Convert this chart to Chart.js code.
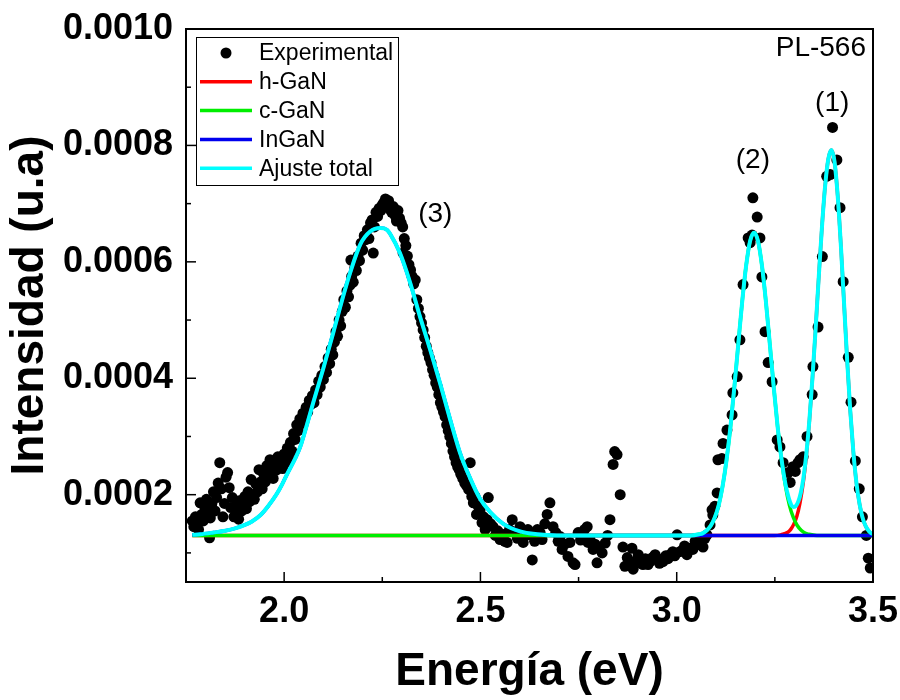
<!DOCTYPE html>
<html>
<head>
<meta charset="utf-8">
<script src="https://cdn.jsdelivr.net/npm/chart.js@4.4.1/dist/chart.umd.min.js"></script>
<style>
  html, body { margin: 0; padding: 0; background: #fff; }
  #wrap { width: 900px; height: 700px; }
</style>
</head>
<body>
<div id="wrap"><canvas id="plPlot" width="900" height="700"></canvas></div>
<script>
// Datos experimentales (energía en eV, intensidad en u.a.)
const energia = [
  1.766, 1.770, 1.774, 1.778, 1.782, 1.786, 1.790, 1.794, 1.798, 1.802, 1.806, 1.810, 1.812, 1.816, 1.820, 1.824,
  1.828, 1.832, 1.836, 1.840, 1.844, 1.848, 1.852, 1.856, 1.860, 1.864, 1.868, 1.872, 1.876, 1.880, 1.884, 1.888,
  1.892, 1.896, 1.900, 1.904, 1.908, 1.912, 1.916, 1.920, 1.924, 1.928, 1.932, 1.936, 1.940, 1.944, 1.948, 1.952,
  1.956, 1.960, 1.964, 1.968, 1.972, 1.976, 1.980, 1.984, 1.988, 1.992, 1.996, 2.000, 2.004, 2.008, 2.012, 2.016,
  2.020, 2.024, 2.028, 2.032, 2.036, 2.040, 2.044, 2.048, 2.052, 2.056, 2.060, 2.064, 2.068, 2.072, 2.076, 2.080,
  2.084, 2.088, 2.092, 2.096, 2.100, 2.104, 2.108, 2.112, 2.116, 2.120, 2.124, 2.128, 2.132, 2.136, 2.140, 2.144,
  2.148, 2.152, 2.156, 2.160, 2.164, 2.168, 2.170, 2.172, 2.176, 2.180, 2.184, 2.188, 2.192, 2.196, 2.200, 2.204,
  2.208, 2.212, 2.216, 2.220, 2.224, 2.227, 2.230, 2.234, 2.238, 2.242, 2.246, 2.250, 2.254, 2.258, 2.262, 2.266,
  2.270, 2.274, 2.278, 2.282, 2.286, 2.290, 2.294, 2.298, 2.302, 2.303, 2.306, 2.310, 2.314, 2.318, 2.322, 2.326,
  2.330, 2.334, 2.338, 2.342, 2.346, 2.350, 2.354, 2.358, 2.362, 2.366, 2.370, 2.374, 2.378, 2.382, 2.386, 2.390,
  2.394, 2.398, 2.402, 2.406, 2.410, 2.414, 2.418, 2.422, 2.426, 2.430, 2.434, 2.438, 2.442, 2.446, 2.450, 2.455,
  2.460, 2.465, 2.470, 2.474, 2.478, 2.482, 2.486, 2.490, 2.494, 2.499, 2.504, 2.508, 2.512, 2.517, 2.520, 2.526,
  2.532, 2.538, 2.544, 2.550, 2.556, 2.562, 2.568, 2.574, 2.581, 2.588, 2.594, 2.601, 2.609, 2.615, 2.621, 2.627,
  2.632, 2.638, 2.645, 2.652, 2.657, 2.664, 2.670, 2.677, 2.685, 2.692, 2.698, 2.703, 2.708, 2.715, 2.723, 2.728,
  2.736, 2.741, 2.749, 2.755, 2.759, 2.765, 2.772, 2.774, 2.779, 2.787, 2.792, 2.797, 2.803, 2.810, 2.818, 2.824,
  2.830, 2.838, 2.842, 2.848, 2.856, 2.863, 2.868, 2.874, 2.881, 2.886, 2.889, 2.894, 2.899, 2.902, 2.908, 2.914,
  2.920, 2.927, 2.932, 2.938, 2.945, 2.950, 2.956, 2.963, 2.965, 2.972, 2.978, 2.983, 2.990, 2.995, 3.001, 3.008,
  3.015, 3.020, 3.026, 3.033, 3.041, 3.047, 3.052, 3.060, 3.067, 3.072, 3.077, 3.085, 3.090, 3.092, 3.097, 3.103,
  3.105, 3.115, 3.118, 3.128, 3.141, 3.143, 3.154, 3.161, 3.169, 3.182, 3.187, 3.192, 3.194, 3.205, 3.212, 3.217,
  3.225, 3.233, 3.243, 3.256, 3.263, 3.271, 3.284, 3.289, 3.296, 3.302, 3.309, 3.314, 3.322, 3.332, 3.345, 3.347,
  3.360, 3.371, 3.382, 3.391, 3.397, 3.408, 3.416, 3.424, 3.437, 3.444, 3.455, 3.465, 3.473, 3.483, 3.488, 3.493
];
const intensidad = [
  1.55e-4, 1.45e-4, 1.62e-4, 1.50e-4, 1.40e-4, 1.86e-4, 1.66e-4, 1.55e-4, 1.78e-4, 1.92e-4, 1.70e-4, 1.26e-4, 1.60e-4, 1.85e-4, 2.05e-4, 1.72e-4,
  1.95e-4, 2.20e-4, 2.55e-4, 2.10e-4, 1.62e-4, 1.85e-4, 2.30e-4, 2.38e-4, 2.12e-4, 1.78e-4, 1.95e-4, 1.62e-4, 1.80e-4, 1.70e-4, 1.58e-4, 1.90e-4,
  1.72e-4, 1.82e-4, 1.97e-4, 1.76e-4, 2.05e-4, 1.88e-4, 2.26e-4, 2.00e-4, 1.92e-4, 2.18e-4, 2.05e-4, 2.43e-4, 2.22e-4, 2.10e-4, 2.35e-4, 2.22e-4,
  2.50e-4, 2.30e-4, 2.60e-4, 2.40e-4, 2.28e-4, 2.55e-4, 2.42e-4, 2.65e-4, 2.48e-4, 2.58e-4, 2.45e-4, 2.70e-4, 2.55e-4, 2.80e-4, 2.62e-4, 2.90e-4,
  2.75e-4, 3.05e-4, 2.95e-4, 3.20e-4, 3.10e-4, 3.30e-4, 3.22e-4, 3.40e-4, 3.32e-4, 3.50e-4, 3.42e-4, 3.62e-4, 3.55e-4, 3.70e-4, 3.58e-4, 3.80e-4,
  3.72e-4, 3.95e-4, 3.85e-4, 4.05e-4, 3.98e-4, 4.20e-4, 4.10e-4, 4.35e-4, 4.25e-4, 4.50e-4, 4.40e-4, 4.62e-4, 4.80e-4, 4.72e-4, 5.00e-4, 4.90e-4,
  5.15e-4, 5.35e-4, 5.22e-4, 5.50e-4, 5.40e-4, 5.60e-4, 6.03e-4, 5.75e-4, 5.65e-4, 5.90e-4, 5.85e-4, 6.10e-4, 6.02e-4, 6.32e-4, 6.20e-4, 6.45e-4,
  6.38e-4, 6.55e-4, 6.40e-4, 6.67e-4, 6.72e-4, 6.15e-4, 6.60e-4, 6.85e-4, 6.78e-4, 6.92e-4, 6.88e-4, 6.98e-4, 7.02e-4, 7.08e-4, 6.95e-4, 7.05e-4,
  6.90e-4, 6.85e-4, 6.95e-4, 6.80e-4, 6.70e-4, 6.88e-4, 6.75e-4, 6.67e-4, 6.60e-4, 6.15e-4, 6.40e-4, 6.28e-4, 6.10e-4, 5.95e-4, 5.86e-4, 5.75e-4,
  5.62e-4, 5.69e-4, 5.35e-4, 5.20e-4, 5.06e-4, 4.95e-4, 4.83e-4, 4.70e-4, 4.55e-4, 4.44e-4, 4.35e-4, 4.27e-4, 4.15e-4, 4.05e-4, 3.92e-4, 3.85e-4,
  3.72e-4, 3.58e-4, 3.50e-4, 3.42e-4, 3.34e-4, 3.20e-4, 3.10e-4, 3.00e-4, 2.88e-4, 2.75e-4, 2.65e-4, 2.55e-4, 2.48e-4, 2.43e-4, 2.35e-4, 2.28e-4,
  2.20e-4, 2.15e-4, 2.09e-4, 2.55e-4, 1.97e-4, 1.86e-4, 1.97e-4, 1.66e-4, 1.80e-4, 1.74e-4, 1.52e-4, 1.62e-4, 1.40e-4, 1.57e-4, 1.95e-4, 1.50e-4,
  1.45e-4, 1.30e-4, 1.38e-4, 1.23e-4, 1.32e-4, 1.20e-4, 1.18e-4, 1.40e-4, 1.57e-4, 1.36e-4, 1.25e-4, 1.45e-4, 1.18e-4, 1.30e-4, 1.40e-4, 1.31e-4,
  0.88e-4, 1.20e-4, 1.40e-4, 1.35e-4, 1.23e-4, 1.50e-4, 1.66e-4, 1.86e-4, 1.45e-4, 1.35e-4, 1.20e-4, 1.28e-4, 1.06e-4, 1.15e-4, 0.94e-4, 1.18e-4,
  0.83e-4, 0.80e-4, 1.35e-4, 1.22e-4, 1.30e-4, 1.40e-4, 1.45e-4, 1.18e-4, 1.23e-4, 1.06e-4, 1.15e-4, 0.83e-4, 1.10e-4, 1.00e-4, 1.17e-4, 1.30e-4,
  1.57e-4, 2.52e-4, 2.74e-4, 2.69e-4, 2.00e-4, 1.10e-4, 0.77e-4, 0.92e-4, 0.79e-4, 1.08e-4, 0.72e-4, 0.85e-4, 0.89e-4, 0.97e-4, 0.82e-4, 0.80e-4,
  0.90e-4, 0.80e-4, 0.85e-4, 0.92e-4, 0.97e-4, 0.90e-4, 0.82e-4, 0.89e-4, 0.85e-4, 0.95e-4, 0.90e-4, 0.97e-4, 1.02e-4, 0.95e-4, 1.31e-4, 1.02e-4,
  1.05e-4, 1.12e-4, 0.97e-4, 1.08e-4, 1.06e-4, 1.20e-4, 1.14e-4, 1.22e-4, 1.10e-4, 1.25e-4, 1.31e-4, 1.48e-4, 1.74e-4, 1.65e-4, 1.80e-4, 2.03e-4,
  2.60e-4, 2.62e-4, 2.88e-4, 3.11e-4, 3.37e-4, 3.75e-4, 4.03e-4, 4.66e-4, 5.61e-4, 6.41e-4, 6.33e-4, 6.46e-4, 7.10e-4, 6.77e-4, 6.41e-4, 5.74e-4,
  4.80e-4, 4.27e-4, 3.94e-4, 2.94e-4, 2.82e-4, 2.55e-4, 2.38e-4, 2.21e-4, 2.48e-4, 2.40e-4, 2.55e-4, 2.60e-4, 2.65e-4, 3.00e-4, 3.72e-4, 4.20e-4,
  4.88e-4, 6.09e-4, 7.47e-4, 7.50e-4, 8.31e-4, 7.75e-4, 6.93e-4, 5.66e-4, 4.36e-4, 3.59e-4, 2.58e-4, 2.10e-4, 1.62e-4, 1.30e-4, 0.91e-4, 0.74e-4
];

// Ajuste total (curva cian)
const ajusteE = [
  1.766, 1.786, 1.820, 1.850, 1.875, 1.900, 1.918, 1.940, 1.959, 1.980, 1.995, 2.008, 2.028, 2.041, 2.058, 2.074,
  2.099, 2.125, 2.150, 2.168, 2.194, 2.219, 2.245, 2.262, 2.270, 2.295, 2.321, 2.346, 2.372, 2.397, 2.423, 2.448,
  2.474, 2.499, 2.525, 2.558, 2.601, 2.644, 2.695, 2.800, 2.900, 3.000, 3.037, 3.057, 3.067, 3.077, 3.087, 3.097,
  3.107, 3.117, 3.127, 3.137, 3.147, 3.157, 3.167, 3.177, 3.187, 3.197, 3.207, 3.217, 3.227, 3.237, 3.247, 3.257,
  3.267, 3.277, 3.285, 3.292, 3.298, 3.304, 3.310, 3.316, 3.322, 3.330, 3.338, 3.346, 3.354, 3.362, 3.370, 3.378,
  3.386, 3.394, 3.402, 3.410, 3.418, 3.426, 3.434, 3.442, 3.450, 3.458, 3.466, 3.474, 3.482, 3.490, 3.498, 3.500
];
const ajusteI = [
  1.31e-4, 1.32e-4, 1.35e-4, 1.38e-4, 1.42e-4, 1.48e-4, 1.54e-4, 1.65e-4, 1.80e-4, 2.00e-4, 2.18e-4, 2.36e-4, 2.62e-4, 2.82e-4, 3.20e-4, 3.58e-4,
  4.15e-4, 4.78e-4, 5.40e-4, 5.81e-4, 6.30e-4, 6.52e-4, 6.58e-4, 6.55e-4, 6.48e-4, 6.15e-4, 5.64e-4, 5.06e-4, 4.49e-4, 3.92e-4, 3.29e-4, 2.72e-4,
  2.28e-4, 1.93e-4, 1.70e-4, 1.50e-4, 1.37e-4, 1.32e-4, 1.30e-4, 1.30e-4, 1.30e-4, 1.30e-4, 1.30e-4, 1.32e-4, 1.34e-4, 1.39e-4, 1.47e-4, 1.61e-4,
  1.82e-4, 2.15e-4, 2.60e-4, 3.17e-4, 3.86e-4, 4.60e-4, 5.33e-4, 5.94e-4, 6.36e-4, 6.50e-4, 6.36e-4, 5.94e-4, 5.33e-4, 4.60e-4, 3.86e-4, 3.17e-4,
  2.61e-4, 2.18e-4, 1.95e-4, 1.82e-4, 1.79e-4, 1.81e-4, 1.89e-4, 2.03e-4, 2.25e-4, 2.69e-4, 3.28e-4, 4.03e-4, 4.87e-4, 5.76e-4, 6.60e-4, 7.30e-4,
  7.76e-4, 7.92e-4, 7.72e-4, 7.14e-4, 6.30e-4, 5.32e-4, 4.33e-4, 3.45e-4, 2.73e-4, 2.19e-4, 1.83e-4, 1.59e-4, 1.45e-4, 1.37e-4, 1.33e-4, 1.33e-4
];

// Componente h-GaN (pico 1)
const hganE = [
  1.766, 3.249, 3.264, 3.274, 3.282, 3.290, 3.298, 3.306, 3.314, 3.322, 3.330, 3.338, 3.346, 3.354, 3.362, 3.370,
  3.378, 3.386, 3.394, 3.402, 3.410, 3.418, 3.426, 3.434, 3.442, 3.450, 3.458, 3.466, 3.474, 3.482, 3.490, 3.498, 3.500
];
const hganI = [
  1.30e-4, 1.30e-4, 1.31e-4, 1.33e-4, 1.35e-4, 1.40e-4, 1.49e-4, 1.63e-4, 1.86e-4, 2.19e-4, 2.66e-4, 3.27e-4, 4.02e-4, 4.87e-4, 5.76e-4, 6.60e-4,
  7.30e-4, 7.76e-4, 7.92e-4, 7.72e-4, 7.14e-4, 6.30e-4, 5.32e-4, 4.33e-4, 3.45e-4, 2.73e-4, 2.19e-4, 1.83e-4, 1.59e-4, 1.45e-4, 1.37e-4, 1.33e-4, 1.33e-4
];

// Componente c-GaN (pico 2)
const cganE = [
  1.766, 3.037, 3.057, 3.067, 3.077, 3.087, 3.097, 3.107, 3.117, 3.127, 3.137, 3.147, 3.157, 3.167, 3.177, 3.187,
  3.197, 3.207, 3.217, 3.227, 3.237, 3.247, 3.257, 3.267, 3.277, 3.287, 3.297, 3.307, 3.317, 3.327, 3.337, 3.357, 3.500
];
const cganI = [
  1.30e-4, 1.30e-4, 1.32e-4, 1.34e-4, 1.39e-4, 1.47e-4, 1.61e-4, 1.82e-4, 2.15e-4, 2.60e-4, 3.17e-4, 3.86e-4, 4.60e-4, 5.33e-4, 5.94e-4, 6.36e-4,
  6.50e-4, 6.36e-4, 5.94e-4, 5.33e-4, 4.60e-4, 3.86e-4, 3.17e-4, 2.60e-4, 2.15e-4, 1.82e-4, 1.61e-4, 1.47e-4, 1.39e-4, 1.34e-4, 1.32e-4, 1.30e-4, 1.30e-4
];

// Componente InGaN (pico 3, banda ancha)
const inganE = [
  1.766, 1.786, 1.820, 1.850, 1.875, 1.900, 1.918, 1.940, 1.959, 1.980, 1.995, 2.008, 2.028, 2.041, 2.058, 2.074,
  2.099, 2.125, 2.150, 2.168, 2.194, 2.219, 2.245, 2.262, 2.270, 2.295, 2.321, 2.346, 2.372, 2.397, 2.423, 2.448,
  2.474, 2.499, 2.525, 2.558, 2.601, 2.644, 2.695, 3.500
];
const inganI = [
  1.31e-4, 1.32e-4, 1.35e-4, 1.38e-4, 1.42e-4, 1.48e-4, 1.54e-4, 1.65e-4, 1.80e-4, 2.00e-4, 2.18e-4, 2.36e-4, 2.62e-4, 2.82e-4, 3.20e-4, 3.58e-4,
  4.15e-4, 4.78e-4, 5.40e-4, 5.81e-4, 6.30e-4, 6.52e-4, 6.58e-4, 6.55e-4, 6.48e-4, 6.15e-4, 5.64e-4, 5.06e-4, 4.49e-4, 3.92e-4, 3.29e-4, 2.72e-4,
  2.28e-4, 1.93e-4, 1.70e-4, 1.50e-4, 1.37e-4, 1.32e-4, 1.30e-4, 1.30e-4
];

const FUENTE = "'Liberation Sans', Arial, sans-serif";
Chart.defaults.font.family = FUENTE;
Chart.defaults.color = "#000";

function puntos(xs, ys) {
  return xs.map((x, i) => ({ x: x, y: ys[i] }));
}

// marco, ticks hacia dentro, leyenda y etiquetas de los picos (estilo Origin)
const marcoOrigin = {
  id: "marcoOrigin",
  afterDatasetsDraw(chart, args, opts) {
    const { ctx, chartArea: a, scales } = chart;
    const xs = scales.x, ys = scales.y;
    ctx.save();

    // ticks mayores y menores
    ctx.strokeStyle = "#000";
    ctx.lineWidth = 1.5;
    const menores = (vals) => {
      const paso = vals[1] - vals[0];
      const res = [];
      for (let i = -1; i < vals.length; i++) res.push(vals[0] + (i + 0.5) * paso);
      return res;
    };
    const xMay = xs.ticks.map(t => t.value);
    const yMay = ys.ticks.map(t => t.value);
    xMay.forEach(v => {
      const p = xs.getPixelForValue(v);
      ctx.beginPath(); ctx.moveTo(p, a.bottom); ctx.lineTo(p, a.bottom - 10); ctx.stroke();
    });
    menores(xMay).filter(v => v > xs.min && v < xs.max).forEach(v => {
      const p = xs.getPixelForValue(v);
      ctx.beginPath(); ctx.moveTo(p, a.bottom); ctx.lineTo(p, a.bottom - 5); ctx.stroke();
    });
    yMay.forEach(v => {
      const p = ys.getPixelForValue(v);
      ctx.beginPath(); ctx.moveTo(a.left, p); ctx.lineTo(a.left + 10, p); ctx.stroke();
    });
    menores(yMay).filter(v => v > ys.min && v < ys.max).forEach(v => {
      const p = ys.getPixelForValue(v);
      ctx.beginPath(); ctx.moveTo(a.left, p); ctx.lineTo(a.left + 5, p); ctx.stroke();
    });

    // marco
    ctx.lineWidth = 2;
    ctx.strokeRect(a.left, a.top, a.right - a.left, a.bottom - a.top);

    // etiquetas de los picos
    ctx.fillStyle = "#000";
    ctx.font = "28px " + FUENTE;
    ctx.textAlign = "center";
    ctx.textBaseline = "middle";
    opts.picos.forEach(pk => {
      ctx.fillText(pk.texto, xs.getPixelForValue(pk.x), ys.getPixelForValue(pk.y));
    });
    ctx.textAlign = "right";
    ctx.fillText(opts.muestra, a.right - 7, a.top + 19);

    // leyenda
    const lx = a.left + 10, ly = a.top + 8, lw = 202, lh = 148;
    ctx.fillStyle = "#fff";
    ctx.fillRect(lx, ly, lw, lh);
    ctx.strokeStyle = "#000";
    ctx.lineWidth = 1;
    ctx.strokeRect(lx + 0.5, ly + 0.5, lw, lh);
    ctx.font = "23px " + FUENTE;
    ctx.textAlign = "left";
    chart.data.datasets.forEach((ds, i) => {
      const fy = ly + 16 + i * 28.8;
      if (ds.showLine === false || !ds.type) {
        ctx.fillStyle = ds.backgroundColor;
        ctx.beginPath(); ctx.arc(lx + 30, fy, 5.5, 0, Math.PI * 2); ctx.fill();
      } else {
        ctx.strokeStyle = ds.borderColor;
        ctx.lineWidth = 3.5;
        ctx.beginPath(); ctx.moveTo(lx + 4, fy); ctx.lineTo(lx + 56, fy); ctx.stroke();
      }
      ctx.fillStyle = "#000";
      ctx.fillText(ds.label, lx + 63, fy + 1);
    });
    ctx.restore();
  }
};

const lineaBase = {
  type: "line",
  showLine: true,
  pointRadius: 0,
  pointHoverRadius: 0,
  fill: false,
  cubicInterpolationMode: "monotone"
};

new Chart(document.getElementById("plPlot"), {
  type: "scatter",
  data: {
    datasets: [
      {
        label: "Experimental",
        data: puntos(energia, intensidad),
        backgroundColor: "#000",
        borderWidth: 0,
        pointRadius: 5.5,
        pointHoverRadius: 5.5,
        showLine: false,
        order: 4
      },
      Object.assign({}, lineaBase, {
        label: "h-GaN", data: puntos(hganE, hganI),
        borderColor: "#ff0000", borderWidth: 3.5, order: 3
      }),
      Object.assign({}, lineaBase, {
        label: "c-GaN", data: puntos(cganE, cganI),
        borderColor: "#00ee00", borderWidth: 3.5, order: 2
      }),
      Object.assign({}, lineaBase, {
        label: "InGaN", data: puntos(inganE, inganI),
        borderColor: "#0000ee", borderWidth: 3.5, order: 1
      }),
      Object.assign({}, lineaBase, {
        label: "Ajuste total", data: puntos(ajusteE, ajusteI),
        borderColor: "#00ffff", borderWidth: 4, order: 0
      })
    ]
  },
  options: {
    responsive: false,
    animation: false,
    events: [],
    layout: { padding: { left: 0, right: 27, top: 29, bottom: 0 } },
    plugins: {
      legend: { display: false },
      tooltip: { enabled: false },
      marcoOrigin: {
        muestra: "PL-566",
        picos: [
          { texto: "(1)", x: 3.396, y: 8.73e-4 },
          { texto: "(2)", x: 3.194, y: 7.75e-4 },
          { texto: "(3)", x: 2.385, y: 6.81e-4 }
        ]
      }
    },
    scales: {
      x: {
        type: "linear",
        min: 1.75,
        max: 3.5,
        grid: { display: false, drawTicks: false },
        border: { display: false },
        ticks: {
          stepSize: 0.5,
          includeBounds: false,
          autoSkip: false,
          maxRotation: 0,
          padding: 8,
          font: { size: 36, weight: "bold" },
          color: "#000",
          callback: (v) => Number(v).toFixed(1)
        },
        title: {
          display: true,
          text: "Energía (eV)",
          font: { size: 46, weight: "bold", lineHeight: 1.2 },
          color: "#000",
          padding: { top: 0, bottom: 0 }
        },
        afterFit: (scale) => {
          scale.height = 118;
          scale.paddingLeft = 0;
          scale.paddingRight = 0;
        }
      },
      y: {
        type: "linear",
        min: 0.00005,
        max: 0.0010,
        grid: { display: false, drawTicks: false },
        border: { display: false },
        ticks: {
          stepSize: 0.0002,
          includeBounds: false,
          padding: 13,
          font: { size: 36, weight: "bold" },
          color: "#000",
          callback: (v) => Number(v).toFixed(4)
        },
        title: {
          display: true,
          text: "Intensidad (u.a)",
          font: { size: 46, weight: "bold", lineHeight: 1.2 },
          color: "#000",
          padding: { top: 3, bottom: 0 }
        },
        afterFit: (scale) => {
          scale.width = 186;
          scale.paddingTop = 0;
          scale.paddingBottom = 0;
        }
      }
    }
  },
  plugins: [marcoOrigin]
});
</script>
</body>
</html>
